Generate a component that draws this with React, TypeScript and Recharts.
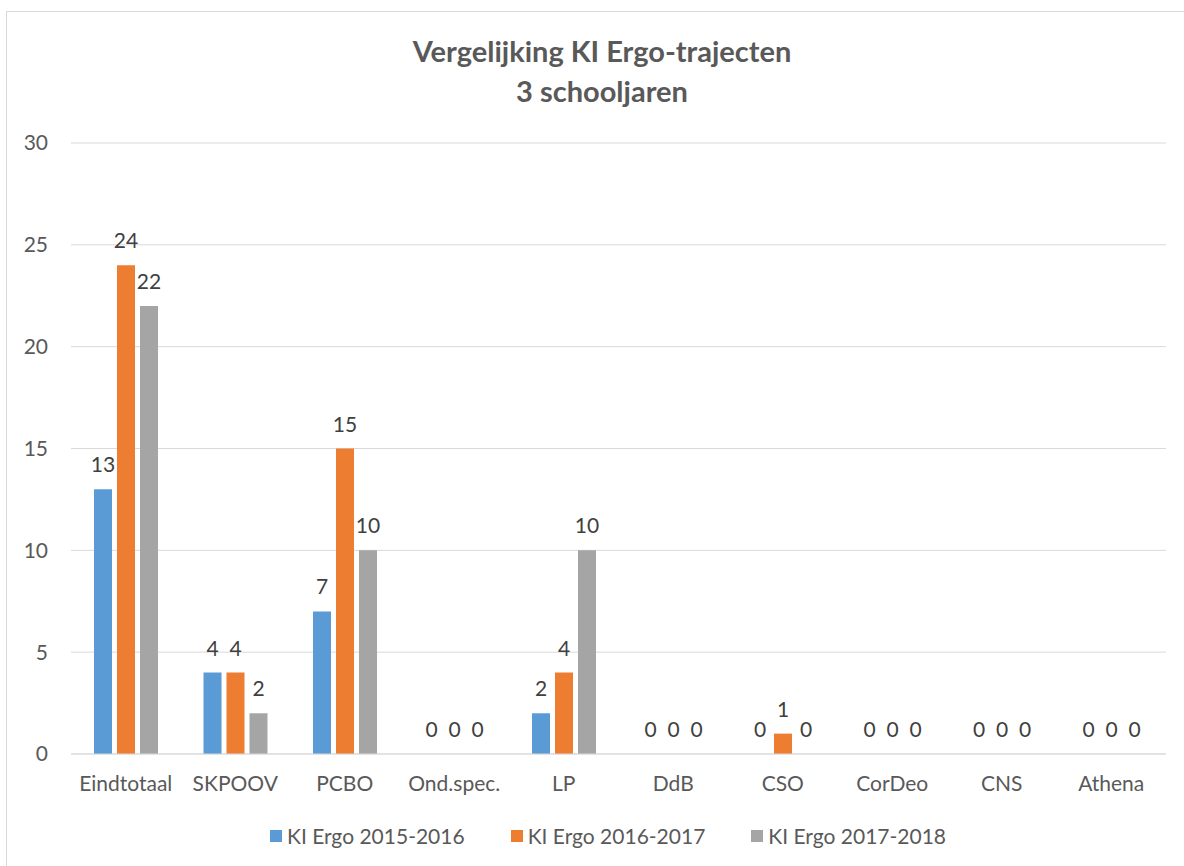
import React from 'react';
import { BarChart, Bar, XAxis, YAxis, CartesianGrid, Legend, LabelList } from 'recharts';

const categories = ['Eindtotaal', 'SKPOOV', 'PCBO', 'Ond.spec.', 'LP', 'DdB', 'CSO', 'CorDeo', 'CNS', 'Athena'];
const ergo1516 = [13, 4, 7, 0, 2, 0, 0, 0, 0, 0];
const ergo1617 = [24, 4, 15, 0, 4, 0, 1, 0, 0, 0];
const ergo1718 = [22, 2, 10, 0, 10, 0, 0, 0, 0, 0];
const yTicks = [0, 5, 10, 15, 20, 25, 30];

const SERIES = [
  { key: 'a', name: 'KI Ergo 2015-2016', color: '#5B9BD5' },
  { key: 'b', name: 'KI Ergo 2016-2017', color: '#ED7D31' },
  { key: 'c', name: 'KI Ergo 2017-2018', color: '#A5A5A5' },
];

const data = categories.map((name, i) => ({
  name,
  a: ergo1516[i],
  b: ergo1617[i],
  c: ergo1718[i],
}));

const FONT = 'Lato, "Open Sans", sans-serif';
const TEXT = '#595959';
const FS = 21;

const renderLegend = (props: any) => {
  const { payload = [] } = props;
  return (
    <div
      style={{
        display: 'flex',
        justifyContent: 'center',
        gap: 46,
        fontFamily: FONT,
        fontSize: FS,
        color: TEXT,
        paddingLeft: 50,
        paddingTop: 3,
      }}
    >
      {payload.map((entry: any) => (
        <div key={entry.value} style={{ display: 'flex', alignItems: 'center' }}>
          <span style={{ display: 'inline-block', width: 12, height: 12, background: entry.color, marginRight: 5 }} />
          <span>{entry.value}</span>
        </div>
      ))}
    </div>
  );
};

const App: React.FC = () => {
  return (
    <div style={{ position: 'fixed', left: 0, top: 0, width: 1184, height: 866, overflow: 'hidden', background: '#fff' }}>
      <div
        style={{
          position: 'absolute',
          left: 6,
          top: 11,
          width: 1200,
          height: 900,
          border: '1px solid #D9D9D9',
          boxSizing: 'border-box',
        }}
      />
      <div
        style={{
          position: 'absolute',
          left: 0,
          top: 31,
          width: 1204,
          textAlign: 'center',
          fontFamily: FONT,
          fontWeight: 700,
          fontSize: 29,
          lineHeight: '40px',
          color: TEXT,
        }}
      >
        Vergelijking KI Ergo-trajecten
        <br />
        3 schooljaren
      </div>
      <div style={{ position: 'absolute', left: 0, top: 0 }}>
        <BarChart
          width={1184}
          height={866}
          data={data}
          margin={{ top: 143, right: 18, bottom: 16, left: 0 }}
          barGap={5}
          barSize={18}
        >
          <CartesianGrid vertical={false} stroke="#D9D9D9" strokeWidth={1} />
          <XAxis
            dataKey="name"
            axisLine={{ stroke: '#D9D9D9', strokeWidth: 1 }}
            tickLine={false}
            tickSize={0}
            tickMargin={22}
            height={66}
            interval={0}
            tick={{ fill: TEXT, fontSize: FS, fontFamily: FONT }}
          />
          <YAxis
            width={71}
            domain={[0, 30]}
            ticks={yTicks}
            axisLine={false}
            tickLine={false}
            tickSize={0}
            tickMargin={23}
            tick={{ fill: TEXT, fontSize: FS, fontFamily: FONT }}
          />
          <Legend verticalAlign="bottom" height={30} content={renderLegend} />
          {SERIES.map((s) => (
            <Bar
              key={s.key}
              dataKey={s.key}
              name={s.name}
              fill={s.color}
              minPointSize={0.001}
              isAnimationActive={false}
            >
              <LabelList
                dataKey={s.key}
                position="top"
                offset={17}
                fill="#404040"
                fontSize={FS}
                fontFamily={FONT}
                formatter={(v: any) => String(v)}
              />
            </Bar>
          ))}
        </BarChart>
      </div>
    </div>
  );
};

export default App;
